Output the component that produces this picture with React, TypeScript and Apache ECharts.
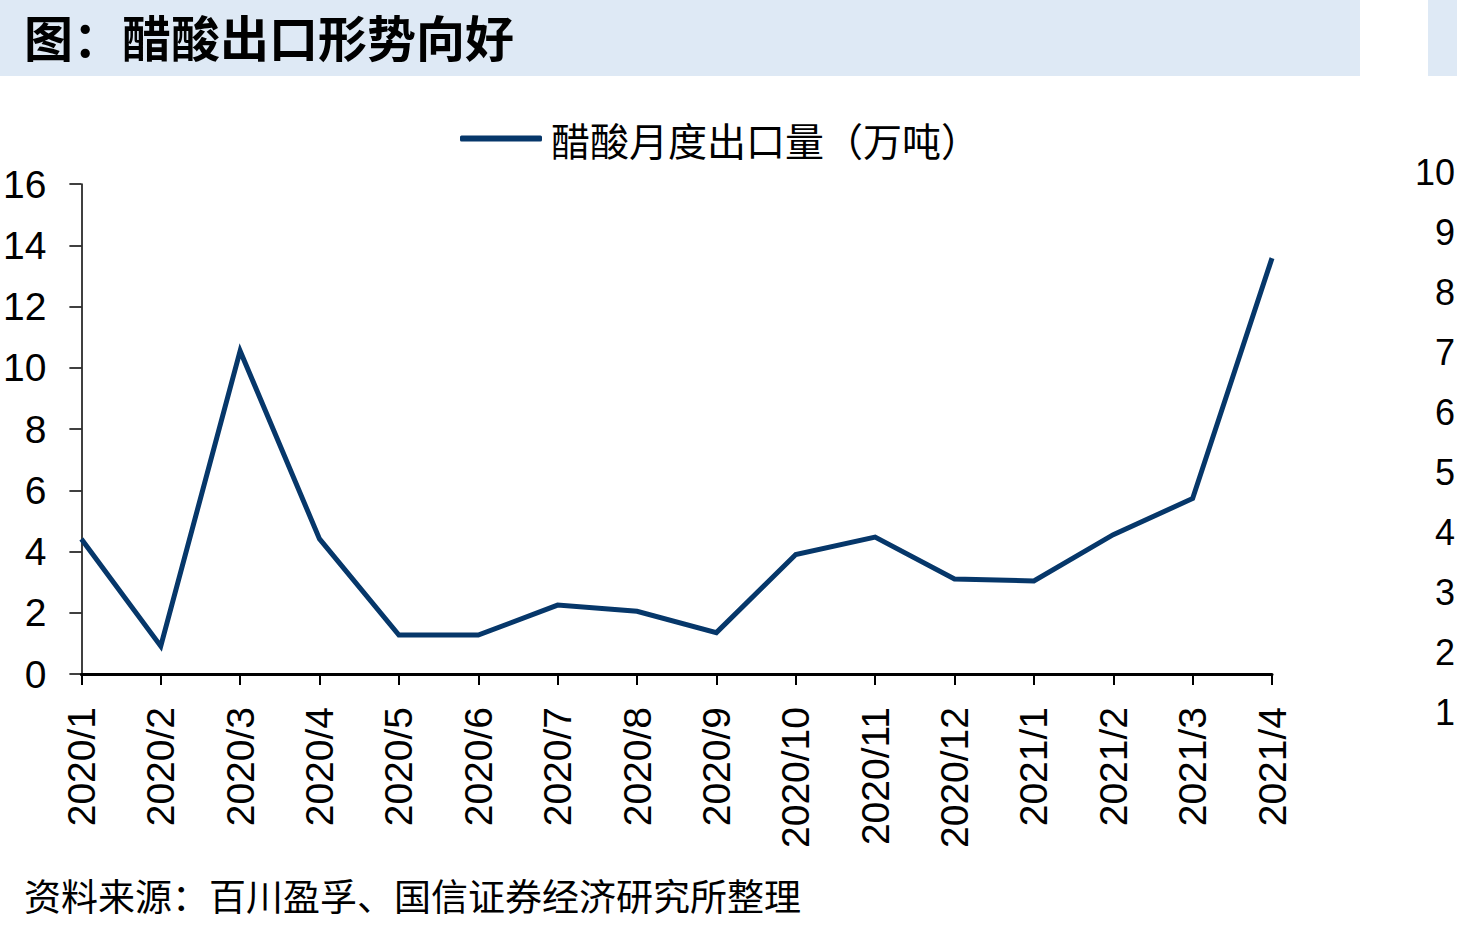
import React, { useEffect, useRef } from "react";
import * as echarts from "echarts";

const categories = [
  "2020/1", "2020/2", "2020/3", "2020/4", "2020/5", "2020/6", "2020/7", "2020/8",
  "2020/9", "2020/10", "2020/11", "2020/12", "2021/1", "2021/2", "2021/3", "2021/4",
];
const exportVolume = [4.41, 0.91, 10.55, 4.41, 1.27, 1.27, 2.25, 2.05, 1.35, 3.9, 4.47, 3.1, 3.04, 4.55, 5.73, 13.58];
const seriesName = "醋酸月度出口量（万吨）";
const titleText = "图：醋酸出口形势向好";
const sourceText = "资料来源：百川盈孚、国信证券经济研究所整理";
const sideTicks = [1, 10];

const LINE = "#06376A";
const BAND = "#DEE9F5";
const NUM_FONT = "'Liberation Sans', Arial, sans-serif";
const CJK_FONT = "'Noto Sans CJK SC', sans-serif";

export default function App() {
  const ref = useRef<HTMLDivElement>(null);
  useEffect(() => {
    if (!ref.current) return;
    const chart = echarts.init(ref.current, null, { renderer: "svg" });
    chart.setOption({
      animation: false,
      backgroundColor: "#ffffff",
      graphic: [
        { type: "rect", shape: { x: 0, y: 0, width: 1360, height: 76 }, style: { fill: BAND }, silent: true },
        { type: "rect", shape: { x: 1428, y: 0, width: 29, height: 76 }, style: { fill: BAND }, silent: true },
        {
          type: "text", x: 24, y: 35,
          style: { text: titleText, fill: "#000", font: `bold 49px ${CJK_FONT}`, textVerticalAlign: "middle" },
        },
        {
          type: "text", x: 24, y: 895,
          style: { text: sourceText, fill: "#000", font: `37px ${CJK_FONT}`, textVerticalAlign: "middle" },
        },
      ],
      legend: {
        show: true,
        left: 455,
        top: 114,
        icon: "roundRect",
        itemWidth: 82,
        itemHeight: 6,
        textStyle: { fontSize: 39, fontFamily: CJK_FONT, color: "#000", padding: [0, 0, 0, 4] },
        data: [{ name: seriesName, itemStyle: { color: LINE } }],
      },
      grid: [
        { left: 80, right: 185, top: 184, bottom: 256, containLabel: false },
        { left: 1457, width: 1, top: 172, bottom: 218, containLabel: false },
      ],
      xAxis: [
        {
          type: "category",
          gridIndex: 0,
          data: categories,
          boundaryGap: false,
          axisLine: { show: true, lineStyle: { color: "#000", width: 3 } },
          axisTick: { show: true, alignWithLabel: true, length: 11, lineStyle: { color: "#000", width: 2 } },
          axisLabel: {
            interval: 0,
            rotate: 90,
            margin: 33,
            fontSize: 39,
            fontFamily: NUM_FONT,
            color: "#000",
          },
          splitLine: { show: false },
        },
        {
          type: "value",
          gridIndex: 1,
          show: false,
        },
      ],
      yAxis: [
        {
          type: "value",
          gridIndex: 0,
          min: 0,
          max: 16,
          interval: 2,
          axisLine: { show: true, lineStyle: { color: "#000", width: 1.5 } },
          axisTick: { show: true, inside: false, length: 12, lineStyle: { color: "#000", width: 1.5 } },
          axisLabel: { margin: 35, fontSize: 39, fontFamily: NUM_FONT, color: "#000" },
          splitLine: { show: false },
        },
        {
          type: "value",
          gridIndex: 1,
          min: sideTicks[0],
          max: sideTicks[1],
          interval: 1,
          axisLine: { show: false },
          axisTick: { show: false },
          axisLabel: { margin: 2, fontSize: 36, fontFamily: NUM_FONT, color: "#000" },
          splitLine: { show: false },
        },
      ],
      series: [
        {
          name: seriesName,
          type: "line",
          xAxisIndex: 0,
          yAxisIndex: 0,
          data: exportVolume,
          showSymbol: false,
          symbol: "none",
          lineStyle: { color: LINE, width: 5, join: "miter" },
          itemStyle: { color: LINE },
        },
      ],
    });
    return () => chart.dispose();
  }, []);
  return (
    <div
      ref={ref}
      style={{ position: "fixed", left: 0, top: 0, width: 1457, height: 930, background: "#fff" }}
    />
  );
}
